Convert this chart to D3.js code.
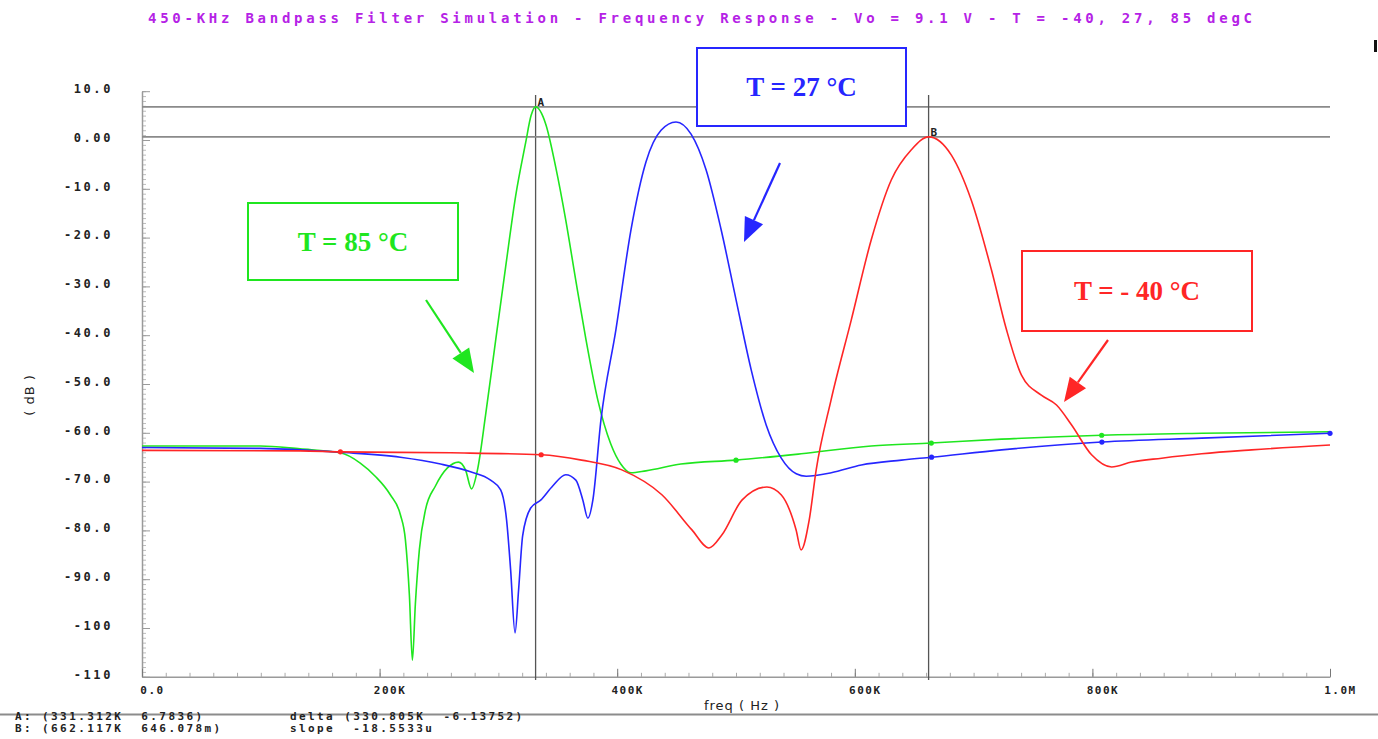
<!DOCTYPE html>
<html>
<head>
<meta charset="utf-8">
<script src="https://cdn.jsdelivr.net/npm/d3@7"></script>
<style>
  html, body { margin: 0; padding: 0; background: #fff; }
  svg { display: block; }
</style>
</head>
<body>
<svg id="chart" width="1378" height="739"></svg>
<script>
// ---- chart text ----
const titleText = "450-KHz Bandpass Filter Simulation - Frequency Response - Vo = 9.1 V - T = -40, 27, 85 degC";
const xAxisTitle = "freq ( Hz )";
const yAxisTitle = "( dB )";

// ---- axes (frequency in kHz, magnitude in dB) ----
const xTickValues = [0, 200, 400, 600, 800, 1000];
const xTickLabels = ["0.0", "200K", "400K", "600K", "800K", "1.0M"];
const yTickValues = [10, 0, -10, -20, -30, -40, -50, -60, -70, -80, -90, -100, -110];
const yTickLabels = ["10.0", "0.00", "-10.0", "-20.0", "-30.0", "-40.0", "-50.0", "-60.0", "-70.0", "-80.0", "-90.0", "-100", "-110"];

// ---- traces ----
// T = 85 degC
const freqGreen = [0, 99.5, 133, 166.9, 183.7, 196.3, 209, 217.5, 221.7, 225.1, 227.6, 230.1, 233.5, 238.6, 247, 257.1, 266.4, 272.3, 277.4, 282.4, 289.2, 297.6, 306.1, 314.5, 322.9, 327.5, 331.3, 339.8, 348.2, 356.7, 365.1, 373.5, 383.7, 394.6, 403, 411.5, 424.1, 453.6, 500, 554.8, 613.8, 664.4, 723.4, 807.8, 892.1, 1000];
const dbGreen   = [-62.7, -62.7, -63.3, -64.1, -66.2, -68.9, -72.7, -76.8, -81.9, -93.4, -106.6, -95.1, -83.9, -75.8, -70.9, -67.2, -66.0, -67.6, -71.5, -67.6, -56.4, -41.2, -26.0, -11.5, -0.6, 5.0, 6.78, 3.3, -5.5, -16.4, -28.7, -40.6, -53.3, -62.3, -66.4, -68.2, -67.8, -66.4, -65.6, -64.3, -62.7, -62.1, -61.3, -60.5, -60.1, -59.8];
// T = 27 degC
const freqBlue = [0, 99.5, 166.9, 217.5, 251.3, 276.5, 293.4, 301.9, 306.9, 310.3, 314.0, 317.0, 320.4, 327.2, 335.6, 345.7, 356.7, 365.2, 371.1, 375.3, 379.5, 386.3, 398.9, 411.6, 424.2, 436.9, 449.5, 462.2, 474.8, 487.5, 500.1, 512.8, 525.4, 538.1, 550.7, 559.1, 580.2, 605.5, 639.3, 664.6, 723.6, 808, 892, 1000];
const dbBlue   = [-63.0, -63.2, -64.0, -65.0, -66.4, -68.0, -69.7, -71.7, -77.9, -88.1, -101.0, -92.2, -81.1, -75.4, -73.8, -70.9, -68.6, -69.7, -73.8, -77.5, -73.8, -57.4, -38.9, -18.4, -4.5, 2.0, 3.7, 1.2, -6.1, -18.4, -32.8, -47.1, -58.4, -65.2, -68.4, -68.9, -68.2, -66.6, -65.6, -65.0, -63.5, -61.9, -61.1, -60.1];
// T = -40 degC
const freqRed = [0, 133, 167, 260, 336, 370, 403.9, 437.6, 462.9, 477.2, 488.2, 505, 526, 538, 550.6, 554.8, 561.6, 567.5, 580, 597, 613.8, 630.7, 647.6, 662.1, 681.3, 698, 715, 727.7, 740.3, 757, 769.8, 782.5, 799.3, 816.2, 833, 858.3, 892, 934, 1000];
const dbRed   = [-63.6, -63.7, -63.9, -64.1, -64.5, -65.6, -67.6, -72.7, -79.9, -83.6, -80.9, -73.8, -71.1, -72.7, -79.9, -84.0, -77.9, -67.6, -53.3, -36.9, -20.5, -8.2, -2.0, 0.646, -3.1, -12.3, -26.6, -38.9, -48.2, -52.3, -54.3, -58.4, -64.5, -67.0, -66.0, -65.2, -64.3, -63.5, -62.5];

// symbol markers sit on these sample frequencies of each trace
const markFreqGreen = [500, 664.4, 807.8];
const markFreqBlue  = [664.6, 808, 1000];
const markFreqRed   = [167, 336];

const legendLabels = ["T = 85 °C", "T = 27 °C", "T = - 40 °C"];
const traceColors  = ["#1fe61f", "#2626ff", "#ff2626"];

// ---- cursors (x in kHz, y in dB) ----
const cursorNames = ["A", "B"];
const cursorX = [331.312, 662.117];
const cursorY = [6.7836, 0.646078];

// ---------------------------------------------------------------
const svg = d3.select("#chart");
const W = 1378, H = 739;
svg.append("rect").attr("width", W).attr("height", H).attr("fill", "#fff");

const x = d3.scaleLinear().domain([0, 1000]).range([142, 1330]);
const y = d3.scaleLinear().domain([-110, 10]).range([676.8, 91.2]);
const axisGrey = "#9a9a9a";
const tickFont = "'DejaVu Sans Mono', monospace";

// title
svg.append("text")
  .attr("x", 700).attr("y", 23)
  .attr("text-anchor", "middle")
  .attr("font-family", tickFont)
  .attr("font-weight", "bold")
  .attr("font-size", 14)
  .attr("fill", "#b522e6")
  .attr("textLength", 1104)
  .attr("lengthAdjust", "spacing")
  .text(titleText);

// small mark at upper right
svg.append("rect").attr("x", 1374).attr("y", 40).attr("width", 3).attr("height", 12).attr("fill", "#111");

// ---- y axis ----
const yMinor = d3.axisLeft(y).tickValues(d3.range(-110, 10.5, 1)).tickSize(-4).tickFormat("").tickSizeOuter(0);
svg.append("g").attr("transform", "translate(142,0)").call(yMinor)
  .call(g => g.select(".domain").remove())
  .call(g => g.selectAll("line").attr("stroke", "#bdbdbd"));

const yMajor = d3.axisLeft(y).tickValues(yTickValues).tickSize(-8).tickPadding(29).tickSizeOuter(0)
  .tickFormat((d, i) => yTickLabels[i]);
const gy = svg.append("g").attr("transform", "translate(142,0)").call(yMajor);
gy.select(".domain").attr("stroke", axisGrey).attr("stroke-width", 1.5);
gy.selectAll("line").attr("stroke", axisGrey);
gy.selectAll("text")
  .attr("font-family", tickFont).attr("font-size", 12).attr("font-weight", "bold")
  .attr("letter-spacing", "2.6px").attr("fill", "#222").attr("dy", "0.1em");

// ---- x axis ----
const xMinor = d3.axisBottom(x).tickValues(d3.range(0, 1000.5, 20)).tickSize(-4).tickFormat("").tickSizeOuter(0);
svg.append("g").attr("transform", "translate(0,676.8)").call(xMinor)
  .call(g => g.select(".domain").remove())
  .call(g => g.selectAll("line").attr("stroke", "#aaaaaa"));

const xMajor = d3.axisBottom(x).tickValues(xTickValues).tickSize(-8).tickPadding(9).tickSizeOuter(0)
  .tickFormat((d, i) => xTickLabels[i]);
const gx = svg.append("g").attr("transform", "translate(0,676.8)").call(xMajor);
gx.select(".domain").attr("stroke", axisGrey).attr("stroke-width", 1.5);
gx.selectAll("line").attr("stroke", "#777");
gx.selectAll("text")
  .attr("font-family", tickFont).attr("font-size", 11).attr("font-weight", "bold")
  .attr("letter-spacing", "1.5px").attr("fill", "#222").attr("dx", 10);

svg.append("text")
  .attr("x", 742).attr("y", 710)
  .attr("text-anchor", "middle")
  .attr("font-family", "'DejaVu Sans', sans-serif").attr("font-size", 13)
  .attr("letter-spacing", "1px").attr("fill", "#222")
  .text(xAxisTitle);

svg.append("text")
  .attr("transform", "translate(34,395) rotate(-90)")
  .attr("text-anchor", "middle")
  .attr("font-family", "'DejaVu Sans', sans-serif").attr("font-size", 13)
  .attr("letter-spacing", "1px").attr("fill", "#222")
  .text(yAxisTitle);

// ---- cursor lines ----
const cursorColor = "#555";
cursorX.forEach((cx, i) => {
  svg.append("line")
    .attr("x1", x(0)).attr("x2", x(1000))
    .attr("y1", y(cursorY[i])).attr("y2", y(cursorY[i]))
    .attr("stroke", "#8a8a8a").attr("stroke-width", 1.6);
  svg.append("line")
    .attr("x1", x(cx)).attr("x2", x(cx))
    .attr("y1", 95).attr("y2", 680)
    .attr("stroke", cursorColor).attr("stroke-width", 1.3);
});

// ---- traces ----
const traces = [
  { f: freqGreen, v: dbGreen, marks: markFreqGreen, color: traceColors[0] },
  { f: freqBlue,  v: dbBlue,  marks: markFreqBlue,  color: traceColors[1] },
  { f: freqRed,   v: dbRed,   marks: markFreqRed,   color: traceColors[2] }
];
const line = d3.line().x(d => x(d[0])).y(d => y(d[1])).curve(d3.curveMonotoneX);

traces.forEach(t => {
  const pts = t.f.map((f, i) => [f, t.v[i]]);
  svg.append("path").datum(pts)
    .attr("d", line)
    .attr("fill", "none")
    .attr("stroke", t.color)
    .attr("stroke-width", 1.6)
    .attr("stroke-linejoin", "round");
  const markPts = t.marks.map(m => pts[t.f.indexOf(m)]).filter(Boolean);
  svg.selectAll(null).data(markPts).join("circle")
    .attr("cx", d => x(d[0])).attr("cy", d => y(d[1]))
    .attr("r", 2.6).attr("fill", t.color);
});

// cursor tags
cursorNames.forEach((n, i) => {
  svg.append("text")
    .attr("x", x(cursorX[i]) + 2).attr("y", y(cursorY[i]) - 1)
    .attr("font-family", tickFont).attr("font-size", 11).attr("font-weight", "bold")
    .attr("fill", "#222").text(n);
});

// ---- callout boxes with arrows ----
const callouts = [
  { box: [248, 203, 210, 77], arrow: [426, 300, 474, 373] },
  { box: [697, 48, 209, 78],  arrow: [780, 163, 744, 242] },
  { box: [1022, 251, 230, 80], arrow: [1108, 340, 1064, 402] }
];
callouts.forEach((c, i) => {
  const [bx, by, bw, bh] = c.box;
  svg.append("rect")
    .attr("x", bx).attr("y", by).attr("width", bw).attr("height", bh)
    .attr("fill", "#fff").attr("stroke", traceColors[i]).attr("stroke-width", 2);
  svg.append("text")
    .attr("x", bx + bw / 2).attr("y", by + bh / 2 + 9)
    .attr("text-anchor", "middle")
    .attr("font-family", "'Liberation Serif', 'Times New Roman', serif")
    .attr("font-weight", "bold").attr("font-size", 27)
    .attr("fill", traceColors[i])
    .text(legendLabels[i]);

  const [x1, y1, x2, y2] = c.arrow;
  const ang = Math.atan2(y2 - y1, x2 - x1);
  const hl = 24, hw = 10;
  const bxh = x2 - hl * Math.cos(ang), byh = y2 - hl * Math.sin(ang);
  svg.append("line")
    .attr("x1", x1).attr("y1", y1).attr("x2", bxh).attr("y2", byh)
    .attr("stroke", traceColors[i]).attr("stroke-width", 2.2);
  const px = -Math.sin(ang), py = Math.cos(ang);
  svg.append("path")
    .attr("d", `M${x2},${y2}L${bxh + hw * px},${byh + hw * py}L${bxh - hw * px},${byh - hw * py}Z`)
    .attr("fill", traceColors[i]);
});

// ---- cursor readout strip ----
svg.append("line").attr("x1", 0).attr("x2", W).attr("y1", 714.5).attr("y2", 714.5)
  .attr("stroke", "#8c8c8c").attr("stroke-width", 2);

function fmtV(v) {
  return Math.abs(v) < 1 ? (v * 1000).toFixed(3) + "m" : v.toFixed(4);
}
const dX = cursorX[1] - cursorX[0];
const dY = cursorY[1] - cursorY[0];
const slope = dY / (dX * 1000);
const readLeft = [
  `A: (${cursorX[0].toFixed(3)}K  ${fmtV(cursorY[0])})`,
  `B: (${cursorX[1].toFixed(3)}K  ${fmtV(cursorY[1])})`
];
const readRight = [
  `delta (${dX.toFixed(3)}K  ${dY.toFixed(5)})`,
  `slope  ${(slope * 1e6).toFixed(4)}u`
];
[readLeft, readRight].forEach((col, c) => {
  col.forEach((s, r) => {
    svg.append("text")
      .attr("x", c === 0 ? 15 : 290).attr("y", 720 + r * 12)
      .attr("font-family", tickFont).attr("font-size", 11).attr("font-weight", "bold")
      .attr("letter-spacing", "2.4px").attr("fill", "#222")
      .attr("xml:space", "preserve")
      .text(s);
  });
});
</script>
</body>
</html>
